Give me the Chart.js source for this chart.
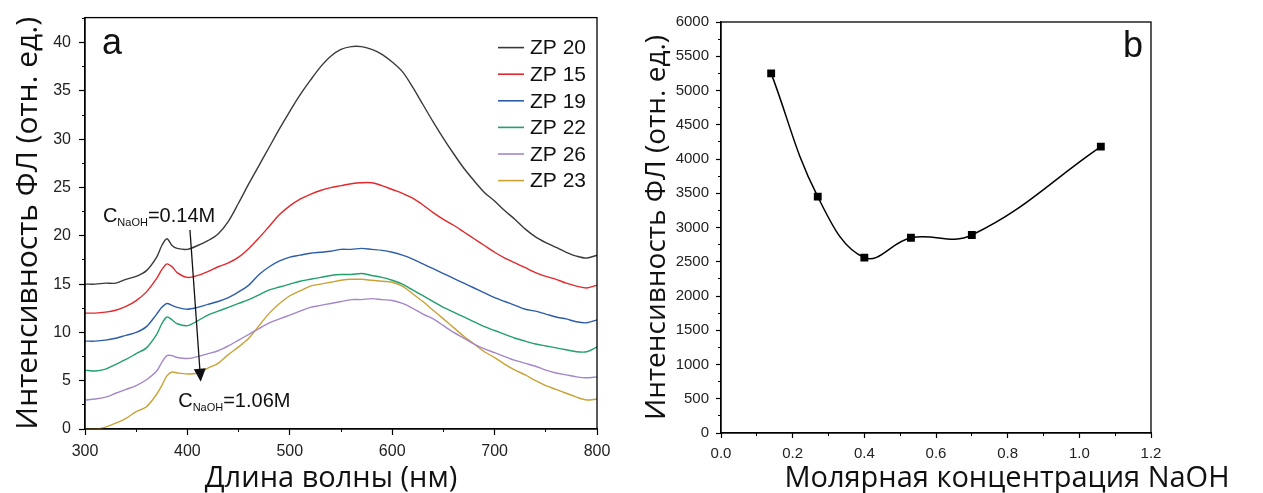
<!DOCTYPE html>
<html>
<head>
<meta charset="utf-8">
<script src="https://cdn.jsdelivr.net/npm/chart.js@4.4.0/dist/chart.umd.min.js"></script>
<style>
  html, body { margin: 0; padding: 0; background: #fff; }
  #wrap { position: relative; width: 1263px; height: 493px; }
  #specChart { position: absolute; left: 0; top: 0; }
  #naohChart { position: absolute; left: 640px; top: 0; }
</style>
</head>
<body>
<div id="wrap">
  <canvas id="specChart" width="640" height="493"></canvas>
  <canvas id="naohChart" width="623" height="493"></canvas>
</div>
<script>
// panel a - PL spectra
const wavelengths = [300,310,320,330,340,350,360,370,375,380,385,390,
  400,410,420,430,440,450,460,470,480,490,500,510,520,530,540,550,560,570,580,590,
  600,610,620,630,640,650,660,670,680,690,700,710,720,730,740,750,760,770,780,790,800];

const zp20 = [15.0,15.0,15.1,15.1,15.5,15.8,16.4,17.8,19.0,19.7,19.0,18.7,
  18.6,19.0,19.5,20.2,21.5,23.4,25.4,27.3,29.2,31.1,32.9,34.6,36.1,37.5,38.6,39.3,39.6,39.6,39.3,38.8,
  38.0,37.0,35.4,33.6,31.8,30.1,28.5,27.0,25.7,24.5,23.6,22.6,21.7,20.7,19.9,19.3,18.8,18.3,17.9,17.7,18.0];
const zp15 = [12.0,12.0,12.1,12.3,12.7,13.3,14.2,15.6,16.5,17.1,16.8,16.2,
  15.7,15.9,16.3,16.8,17.2,17.8,18.7,19.8,21.0,22.2,23.1,23.8,24.3,24.7,25.0,25.2,25.4,25.5,25.5,25.2,
  24.8,24.4,23.9,23.2,22.4,21.7,21.1,20.4,19.7,19.0,18.3,17.7,17.2,16.7,16.2,15.8,15.5,15.1,14.8,14.6,14.9];
const zp19 = [9.1,9.1,9.2,9.4,9.7,10.0,10.6,11.9,12.6,13.0,12.8,12.6,
  12.4,12.6,12.9,13.2,13.6,14.2,14.9,16.0,16.8,17.4,17.8,18.0,18.2,18.3,18.4,18.6,18.6,18.7,18.6,18.5,
  18.3,18.0,17.6,17.1,16.6,16.1,15.6,15.1,14.6,14.1,13.6,13.2,12.8,12.4,12.2,11.9,11.6,11.4,11.1,11.0,11.3];
const zp22 = [6.1,6.0,6.2,6.7,7.2,7.8,8.4,9.8,10.9,11.6,11.3,10.9,
  10.7,11.2,11.8,12.2,12.6,13.0,13.4,13.9,14.4,14.7,15.0,15.3,15.5,15.7,15.9,16.0,16.0,16.1,15.9,15.7,
  15.4,15.0,14.4,13.8,13.2,12.6,12.1,11.6,11.1,10.6,10.2,9.8,9.4,9.1,8.8,8.6,8.4,8.2,8.0,8.0,8.5];
const zp26 = [3.0,3.1,3.3,3.7,4.1,4.5,5.1,6.0,6.9,7.6,7.6,7.4,
  7.3,7.5,7.8,8.1,8.6,9.2,9.8,10.4,11.0,11.4,11.8,12.2,12.6,12.8,13.0,13.2,13.4,13.4,13.5,13.4,
  13.3,13.0,12.5,11.9,11.4,10.7,10.0,9.4,8.8,8.3,7.9,7.5,7.1,6.8,6.5,6.1,5.8,5.6,5.4,5.3,5.4];
const zp23 = [0.0,0.0,0.2,0.6,1.1,1.8,2.3,3.6,4.5,5.5,5.9,5.8,
  5.7,5.8,6.3,6.8,7.7,8.5,9.4,10.7,12.0,13.0,13.8,14.3,14.8,15.0,15.2,15.4,15.5,15.5,15.4,15.3,
  15.2,14.8,14.0,13.2,12.3,11.4,10.5,9.6,8.8,8.0,7.4,6.7,6.1,5.6,5.0,4.5,4.1,3.7,3.3,3.0,3.1];

const seriesNames = ['ZP 20', 'ZP 15', 'ZP 19', 'ZP 22', 'ZP 26', 'ZP 23'];
const seriesColors = ['#3a3a3a', '#e3282c', '#2d5da8', '#22a06b', '#a487c8', '#c9a236'];
const spectra = [zp20, zp15, zp19, zp22, zp26, zp23];

// panel b - PL intensity vs NaOH concentration
const naohConc = [0.14, 0.27, 0.40, 0.53, 0.70, 1.06];
const plIntensity = [5250, 3450, 2560, 2850, 2890, 4180];

// arrow / labels of panel a, in data units (nm, a.u.)
const arrowFrom = [402.5, 20.6];
const arrowTo = [413, 4.9];
const labelLow = [317.5, 21.4];
const labelHigh = [391, 2.3];

const TICK_FAMILY = 'Arial, "Liberation Sans", sans-serif';
const TITLE_FAMILY = '"Open Sans", sans-serif';

function subLabel(ctx, px, py, conc) {
  ctx.font = '20px ' + TICK_FAMILY;
  ctx.fillText('C', px, py);
  let w = ctx.measureText('C').width;
  ctx.font = '11px ' + TICK_FAMILY;
  ctx.fillText('NaOH', px + w, py + 4);
  w += ctx.measureText('NaOH').width;
  ctx.font = '20px ' + TICK_FAMILY;
  ctx.fillText('=' + conc, px + w, py);
}

const panelA = {
  id: 'panelA',
  afterDraw(chart) {
    const { ctx, chartArea: a, scales: { x, y } } = chart;
    ctx.save();
    ctx.strokeStyle = '#000';
    ctx.lineWidth = 1.3;
    ctx.strokeRect(a.left, a.top, a.right - a.left, a.bottom - a.top);

    ctx.fillStyle = '#111';
    ctx.textBaseline = 'alphabetic';
    ctx.textAlign = 'left';
    ctx.font = '36px ' + TICK_FAMILY;
    ctx.fillText('a', a.left + 17, a.top + 36);

    // legend
    chart.data.datasets.forEach((ds, i) => {
      const yy = a.top + 30 + i * 26.6;
      ctx.strokeStyle = ds.borderColor;
      ctx.lineWidth = 1.6;
      ctx.beginPath();
      ctx.moveTo(a.right - 99, yy);
      ctx.lineTo(a.right - 73, yy);
      ctx.stroke();
      ctx.fillStyle = '#111';
      ctx.font = '21px ' + TICK_FAMILY;
      ctx.textBaseline = 'middle';
      ctx.fillText(ds.label, a.right - 67, yy + 1);
    });

    ctx.textBaseline = 'alphabetic';
    subLabel(ctx, x.getPixelForValue(labelLow[0]), y.getPixelForValue(labelLow[1]), '0.14M');
    subLabel(ctx, x.getPixelForValue(labelHigh[0]), y.getPixelForValue(labelHigh[1]), '1.06M');

    // arrow
    const x0 = x.getPixelForValue(arrowFrom[0]), y0 = y.getPixelForValue(arrowFrom[1]);
    const x1 = x.getPixelForValue(arrowTo[0]), y1 = y.getPixelForValue(arrowTo[1]);
    const ang = Math.atan2(y1 - y0, x1 - x0);
    ctx.strokeStyle = '#111';
    ctx.lineWidth = 1.3;
    ctx.beginPath();
    ctx.moveTo(x0, y0);
    ctx.lineTo(x1 - 10 * Math.cos(ang), y1 - 10 * Math.sin(ang));
    ctx.stroke();
    ctx.fillStyle = '#111';
    ctx.beginPath();
    ctx.moveTo(x1, y1);
    ctx.lineTo(x1 - 13 * Math.cos(ang) + 6 * Math.sin(ang), y1 - 13 * Math.sin(ang) - 6 * Math.cos(ang));
    ctx.lineTo(x1 - 13 * Math.cos(ang) - 6 * Math.sin(ang), y1 - 13 * Math.sin(ang) + 6 * Math.cos(ang));
    ctx.closePath();
    ctx.fill();

    // x title, a bit left of the plot centre in the original
    ctx.fillStyle = '#111';
    ctx.textAlign = 'center';
    ctx.font = '29px ' + TITLE_FAMILY;
    ctx.fillText('Длина волны (нм)', a.left + 246, 487);
    ctx.restore();
  }
};

const panelB = {
  id: 'panelB',
  afterDraw(chart) {
    const { ctx, chartArea: a } = chart;
    ctx.save();
    ctx.strokeStyle = '#000';
    ctx.lineWidth = 1.3;
    ctx.strokeRect(a.left, a.top, a.right - a.left, a.bottom - a.top);
    ctx.fillStyle = '#111';
    ctx.textAlign = 'left';
    ctx.textBaseline = 'alphabetic';
    ctx.font = '36px ' + TICK_FAMILY;
    ctx.fillText('b', a.right - 28, a.top + 35);
    // x title sits right of the plot centre in the original
    ctx.textAlign = 'center';
    ctx.font = '29px ' + TITLE_FAMILY;
    ctx.fillText('Молярная концентрация NaOH', a.left + 286, 487);
    ctx.restore();
  }
};

function axisPair(min, max, major, minor, pos, size) {
  const horiz = pos === 'bottom';
  const fix = v => s => { if (horiz) s.height = v; else s.width = v; };
  const main = {
    type: 'linear', position: pos, min: min, max: max, weight: 1,
    ticks: { stepSize: major, includeBounds: false, color: '#222', maxRotation: 0 },
    grid: { drawOnChartArea: false, tickLength: 6, color: '#000', tickWidth: 1.2 },
    border: { color: '#000', width: 1.3 },
    afterFit: fix(size)
  };
  const sub = {
    type: 'linear', position: pos, min: min, max: max, weight: 0,
    ticks: { stepSize: minor, includeBounds: false, display: false },
    grid: { drawOnChartArea: false, tickLength: 3, color: '#000', tickWidth: 1 },
    border: { display: false },
    afterFit: fix(0)
  };
  return [main, sub];
}

// ---- panel a
const [ax, axm] = axisPair(300, 800, 100, 50, 'bottom', 64);
ax.ticks.font = { family: TICK_FAMILY, size: 16 };
ax.ticks.padding = 7;
const [ay, aym] = axisPair(0, 42.6, 5, 2.5, 'left', 85);
ay.ticks.font = { family: TICK_FAMILY, size: 16 };
ay.ticks.padding = 8;
ay.title = { display: true, text: 'Интенсивность ФЛ (отн. ед.)', color: '#111',
  font: { family: TITLE_FAMILY, size: 30 }, padding: { top: 10, bottom: 0 } };

new Chart(document.getElementById('specChart'), {
  type: 'line',
  data: {
    datasets: spectra.map((vals, i) => ({
      label: seriesNames[i],
      data: vals.map((v, k) => ({ x: wavelengths[k], y: v })),
      borderColor: seriesColors[i],
      borderWidth: 1.4,
      pointRadius: 0,
      tension: 0.3,
      fill: false
    }))
  },
  options: {
    responsive: false,
    animation: false,
    devicePixelRatio: 1,
    layout: { padding: { top: 17, right: 43, left: 0, bottom: 0 } },
    plugins: { legend: { display: false }, tooltip: { enabled: false } },
    scales: { x: ax, xm: axm, y: ay, ym: aym }
  },
  plugins: [panelA]
});

// ---- panel b
const [bx, bxm] = axisPair(0, 1.2, 0.2, 0.1, 'bottom', 60);
bx.ticks.font = { family: TICK_FAMILY, size: 15 };
bx.ticks.padding = 7;
bx.ticks.callback = v => v.toFixed(1);
bx.grid.tickLength = 5;
const [by, bym] = axisPair(0, 6000, 500, 250, 'left', 81);
by.ticks.font = { family: TICK_FAMILY, size: 15 };
by.ticks.padding = 7;
by.ticks.callback = v => String(v);
by.grid.tickLength = 5;
by.title = { display: true, text: 'Интенсивность ФЛ (отн. ед.)', color: '#111',
  font: { family: TITLE_FAMILY, size: 28 }, padding: { top: 0, bottom: 0 } };

new Chart(document.getElementById('naohChart'), {
  type: 'line',
  data: {
    datasets: [{
      label: 'ФЛ',
      data: naohConc.map((c, i) => ({ x: c, y: plIntensity[i] })),
      borderColor: '#000',
      backgroundColor: '#000',
      borderWidth: 1.5,
      pointStyle: 'rect',
      pointRadius: 4.5,
      tension: 0.4,
      fill: false
    }]
  },
  options: {
    responsive: false,
    animation: false,
    devicePixelRatio: 1,
    layout: { padding: { top: 22, right: 112, left: 0, bottom: 0 } },
    plugins: { legend: { display: false }, tooltip: { enabled: false } },
    scales: { x: bx, xm: bxm, y: by, ym: bym }
  },
  plugins: [panelB]
});
</script>
</body>
</html>
